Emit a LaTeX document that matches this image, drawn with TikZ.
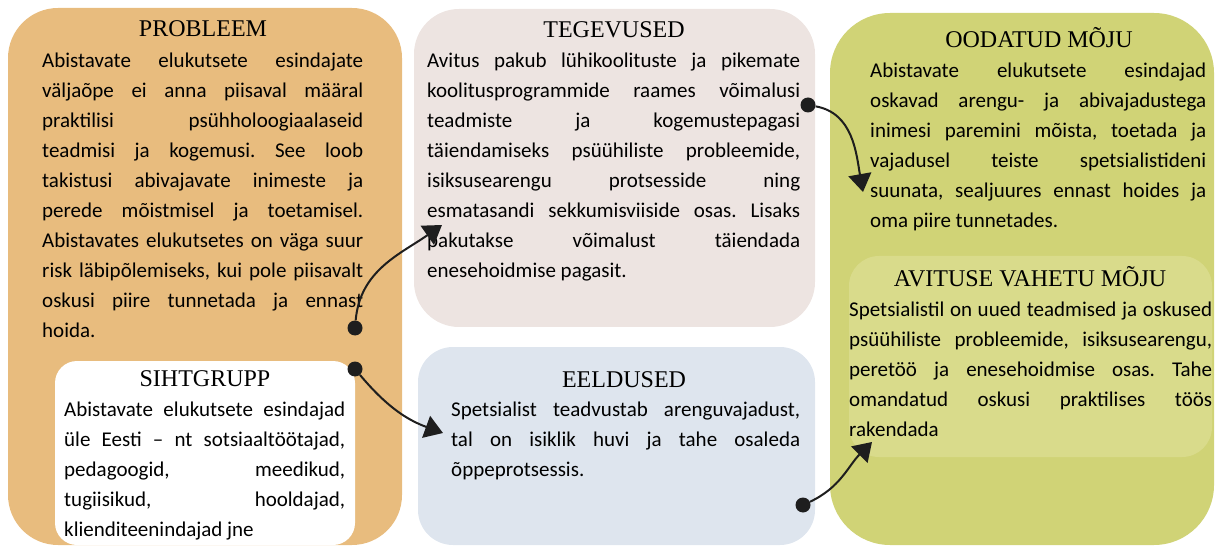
\documentclass[tikz,border=0pt]{standalone}
\usepackage{fontspec}
\setmainfont{Carlito}
\newfontfamily\ttlfont{Liberation Serif}
\usepackage{tikz}
\usetikzlibrary{arrows.meta}

\definecolor{probcol}{RGB}{232,188,126}
\definecolor{tegcol}{RGB}{237,228,225}
\definecolor{eeldcol}{RGB}{222,229,238}
\definecolor{oodcol}{RGB}{208,211,118}
\definecolor{avitcol}{RGB}{217,219,139}
\definecolor{ink}{RGB}{30,30,30}

\frenchspacing
\tolerance=10000
\hbadness=10000
\hyphenpenalty=10000
\exhyphenpenalty=10000
\newcommand{\fst}{\rule{0pt}{16pt}}

\begin{document}
\begin{tikzpicture}[x=1pt,y=1pt]
  \tikzstyle{b} = [rectangle, inner sep=0pt]
  \tikzstyle{h} = [anchor=base, inner sep=0pt, font=\ttlfont\fontsize{24}{28}\selectfont]
  \tikzstyle{t} = [anchor=north west, inner sep=0pt, align=justify, font=\fontsize{21}{30}\selectfont]
  \tikzstyle{dot} = [circle, fill=ink, minimum size=15pt, inner sep=0pt]
  \tikzstyle{arr} = [line width=2pt, draw=ink, -{Triangle[length=18pt,width=23pt]}]
  \useasboundingbox (0,0) rectangle (1216,547);

  % boxes
  \node[b, fill=probcol, rounded corners=50pt, minimum width=394pt, minimum height=537pt](b1) at (205,270.5){};
  \node[b, fill=white, rounded corners=22pt, minimum width=300pt, minimum height=184pt](b2) at (205,94){};
  \node[b, fill=tegcol, rounded corners=45pt, minimum width=401pt, minimum height=318pt](b3) at (614.5,379){};
  \node[b, fill=eeldcol, rounded corners=35pt, minimum width=397pt, minimum height=198pt](b4) at (616.5,101){};
  \node[b, fill=oodcol, rounded corners=60pt, minimum width=384pt, minimum height=532pt](b5) at (1022,268){};
  \node[b, fill=avitcol, rounded corners=30pt, minimum width=363pt, minimum height=201pt](b6) at (1030.5,190.5){};

  % titles
  \node[h](h1) at (203,510){PROBLEEM};
  \node[h](h2) at (205,161){SIHTGRUPP};
  \node[h](h3) at (614,509){TEGEVUSED};
  \node[h](h4) at (624,160){EELDUSED};
  \node[h](h5) at (1039,499){OODATUD MÕJU};
  \node[h](h6) at (1030,260){AVITUSE VAHETU MÕJU};

  % texts
  \node[t, text width=321pt](t1) at (42,496){\fst Abistavate elukutsete esindajate\linebreak
    väljaõpe ei anna piisaval määral\linebreak
    praktilisi psühholoogiaalaseid\linebreak
    teadmisi ja kogemusi. See loob\linebreak
    takistusi abivajavate inimeste ja\linebreak
    perede mõistmisel ja toetamisel.\linebreak
    Abistavates elukutsetes on väga suur\linebreak
    risk läbipõlemiseks, kui pole piisavalt\linebreak
    oskusi piire tunnetada ja ennast\linebreak
    hoida.};
  \node[t, text width=281pt](t2) at (64,147){\fst Abistavate elukutsete esindajad\linebreak
    üle Eesti – nt sotsiaaltöötajad,\linebreak
    pedagoogid, meedikud,\linebreak
    tugiisikud, hooldajad,\linebreak
    klienditeenindajad jne};
  \node[t, text width=373pt](t3) at (427,496){\fst Avitus pakub lühikoolituste ja pikemate\linebreak
    koolitusprogrammide raames võimalusi\linebreak
    teadmiste ja kogemustepagasi\linebreak
    täiendamiseks psüühiliste probleemide,\linebreak
    isiksusearengu protsesside ning\linebreak
    esmatasandi sekkumisviiside osas. Lisaks\linebreak
    pakutakse võimalust täiendada\linebreak
    enesehoidmise pagasit.};
  \node[t, text width=349pt](t4) at (451,147){\fst Spetsialist teadvustab arenguvajadust,\linebreak
    tal on isiklik huvi ja tahe osaleda\linebreak
    õppeprotsessis.};
  \node[t, text width=336pt](t5) at (870,486){\fst Abistavate elukutsete esindajad\linebreak
    oskavad arengu- ja abivajadustega\linebreak
    inimesi paremini mõista, toetada ja\linebreak
    vajadusel teiste spetsialistideni\linebreak
    suunata, sealjuures ennast hoides ja\linebreak
    oma piire tunnetades.};
  \node[t, text width=363pt](t6) at (849,247){\fst Spetsialistil on uued teadmised ja oskused\linebreak
    psüühiliste probleemide, isiksusearengu,\linebreak
    peretöö ja enesehoidmise osas. Tahe\linebreak
    omandatud oskusi praktilises töös\linebreak
    rakendada};

  % connectors
  \node[dot](d1) at (355,219){};
  \node[dot](d2) at (355,178){};
  \node[dot](d3) at (808,442){};
  \node[dot](d4) at (803,42){};
  \coordinate (a1) at (442,322);
  \coordinate (a2) at (443,114);
  \coordinate (a3) at (863,355);
  \coordinate (a4) at (872,105);

  \draw[arr](d1) to[out=85,in=215] (a1);
  \draw[arr](d2) to[out=-50,in=160] (a2);
  \draw[arr](d3) to[out=-10,in=100] (a3);
  \draw[arr](d4) to[out=25,in=225] (a4);

\end{tikzpicture}
\end{document}
